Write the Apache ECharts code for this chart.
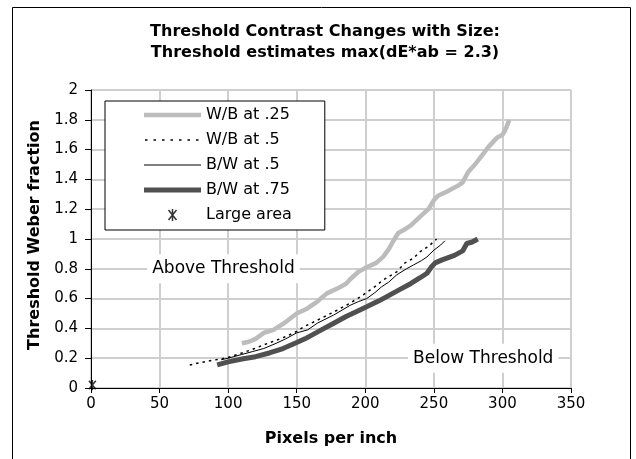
<!DOCTYPE html>
<html>
<head>
<meta charset="utf-8">
<script src="https://cdn.jsdelivr.net/npm/echarts@6/dist/echarts.min.js"></script>
<style>html,body{margin:0;padding:0;background:#fff;}#c{width:636px;height:459px;}</style>
</head>
<body>
<div id="c"></div>
<script>
const titleLines = ['Threshold Contrast Changes with Size:', 'Threshold estimates max(dE*ab = 2.3)'];
const xName = 'Pixels per inch';
const yName = 'Threshold Weber fraction';
const seriesNames = ['W/B at .25', 'W/B at .5', 'B/W at .5', 'B/W at .75', 'Large area'];

const wb25 = [[110,0.30],[115,0.31],[120,0.33],[126,0.37],[133,0.39],[140,0.43],[150,0.50],[157,0.53],[165,0.58],[172,0.635],[180,0.67],[186,0.70],[189,0.73],[195,0.78],[201,0.81],[208,0.84],[213,0.88],[217,0.93],[220,0.98],[224,1.04],[228,1.06],[233,1.09],[240,1.15],[246,1.20],[250,1.26],[253,1.29],[260,1.32],[268,1.36],[271,1.38],[275,1.45],[280,1.50],[285,1.56],[290,1.62],[296,1.68],[300,1.70],[302,1.73],[305,1.80]];
const wb50 = [[72,0.155],[80,0.17],[88,0.185],[95,0.195],[100,0.205],[110,0.235],[118,0.26],[126,0.29],[135,0.32],[142,0.345],[150,0.38],[155,0.41],[165,0.455],[177,0.51],[189,0.57],[196,0.61],[200,0.635],[207,0.68],[213,0.725],[223,0.78],[229,0.84],[235,0.87],[240,0.915],[246,0.95],[252,1.0]];
const bw50 = [[95,0.19],[100,0.20],[110,0.225],[118,0.245],[126,0.265],[135,0.30],[142,0.33],[150,0.37],[158,0.39],[165,0.435],[177,0.49],[189,0.555],[195,0.58],[201,0.60],[207,0.64],[212,0.68],[217,0.71],[223,0.76],[230,0.80],[235,0.825],[241,0.855],[245,0.88],[250,0.925],[255,0.96],[258,0.988]];
const bw75 = [[92,0.155],[100,0.175],[110,0.195],[120,0.21],[130,0.235],[140,0.265],[150,0.305],[156,0.33],[162,0.36],[170,0.40],[176,0.43],[186,0.48],[193,0.51],[201,0.545],[210,0.585],[218,0.625],[225,0.66],[233,0.70],[240,0.74],[245,0.77],[248,0.81],[251,0.84],[256,0.86],[265,0.89],[271,0.92],[274,0.97],[278,0.98],[282,1.0]];
const largeArea = [[1,0.02]];
const annotations = [{text:'Above Threshold', coord:[96.6,0.8]}, {text:'Below Threshold', coord:[286,0.2]}];

const FONT = 'DejaVu Sans';
const star = 'path://M0,0M14,14M3,2L11,12M11,2L3,12M7,1L7,13';

function barIcon(h) { return 'path://M0,0L57,0L57,' + h + 'L0,' + h + 'Z'; }
function dotIcon() {
  let p = 'path://M0,0M57,1.5';
  for (let i = 0; i < 7; i++) {
    const x = 1 + i * 8.5;
    p += 'M' + x + ',0L' + (x + 2.5) + ',0L' + (x + 2.5) + ',1.5L' + x + ',1.5Z';
  }
  return p;
}

const chart = echarts.init(document.getElementById('c'), null, {renderer:'canvas'});
chart.setOption({
  animation: false,
  backgroundColor: '#fff',
  textStyle: {fontFamily: FONT},
  title: {
    text: titleLines.join('\n'),
    left: 325, top: 22, padding: 0, textAlign: 'center',
    textStyle: {fontFamily: FONT, fontSize: 16, fontWeight: 'bold', color: '#000', lineHeight: 20.5}
  },
  graphic: [{type:'rect', shape:{x:12.5, y:7.5, width:618, height:470}, style:{fill:'none', stroke:'#000', lineWidth:1}, silent:true, z:-1}],
  grid: {left: 91, right: 65, top: 90, bottom: 71, containLabel: false, outerBoundsMode: 'none'},
  legend: {
    orient: 'vertical', left: 105, top: 101,
    padding: [6, 33, 7, 39],
    itemWidth: 57, itemHeight: 14, itemGap: 9,
    symbolKeepAspect: true,
    backgroundColor: '#fff', borderColor: '#000', borderWidth: 1,
    textStyle: {fontFamily: FONT, fontSize: 16, color: '#000'},
    data: [
      {name: seriesNames[0], icon: barIcon(4.5), itemStyle: {color: '#bcbcbc', borderWidth: 0}},
      {name: seriesNames[1], icon: dotIcon(), itemStyle: {color: '#000', borderWidth: 0}},
      {name: seriesNames[2], icon: barIcon(1), itemStyle: {color: '#000', borderWidth: 0}},
      {name: seriesNames[3], icon: barIcon(5), itemStyle: {color: '#505050', borderWidth: 0}},
      {name: seriesNames[4], icon: star, itemStyle: {color: '#000', borderColor: '#000', borderWidth: 1.5}}
    ],
    selectedMode: false
  },
  xAxis: {
    type: 'value', min: 0, max: 350, interval: 50,
    name: xName, nameLocation: 'middle', nameGap: 43,
    nameTextStyle: {fontFamily: FONT, fontSize: 16, fontWeight: 'bold', color: '#000'},
    axisLine: {show: true, onZero: false, lineStyle: {color: '#000', width: 1}},
    axisTick: {show: true, length: 5, lineStyle: {color: '#000'}},
    axisLabel: {fontFamily: FONT, fontSize: 15, color: '#000', margin: 9},
    splitLine: {show: true, lineStyle: {color: '#cfcfcf', width: 2}}
  },
  yAxis: {
    type: 'value', min: 0, max: 2, interval: 0.2,
    name: yName, nameLocation: 'middle', nameGap: 47,
    nameTextStyle: {fontFamily: FONT, fontSize: 16, fontWeight: 'bold', color: '#000', padding: [0, 0, 0, 8]},
    axisLine: {show: true, onZero: false, lineStyle: {color: '#000', width: 1}},
    axisTick: {show: true, length: 6, lineStyle: {color: '#000'}},
    axisLabel: {fontFamily: FONT, fontSize: 15, color: '#000', margin: 13},
    splitLine: {show: true, lineStyle: {color: '#cfcfcf', width: 2}}
  },
  series: [
    {name: seriesNames[0], type: 'line', data: wb25, symbol: 'none', color: '#bcbcbc', lineStyle: {color: '#bcbcbc', width: 4.5}, z: 2, emphasis:{disabled:true}},
    {name: seriesNames[1], type: 'line', data: wb50, symbol: 'none', color: '#000', lineStyle: {color: '#000', width: 1.5, type: [2.5, 4]}, z: 3, emphasis:{disabled:true}},
    {name: seriesNames[2], type: 'line', data: bw50, symbol: 'none', color: '#000', lineStyle: {color: '#000', width: 1}, z: 3, emphasis:{disabled:true}},
    {name: seriesNames[3], type: 'line', data: bw75, symbol: 'none', color: '#505050', lineStyle: {color: '#505050', width: 5}, z: 2, emphasis:{disabled:true}},
    {name: seriesNames[4], type: 'scatter', data: largeArea, symbol: star, symbolSize: 12, symbolKeepAspect: true, clip: false,
     itemStyle: {color: '#000', borderColor: '#000', borderWidth: 1.5}, z: 4, emphasis:{disabled:true},
     markPoint: {
       symbol: 'rect', symbolSize: 1, silent: true,
       itemStyle: {color: 'rgba(0,0,0,0)'},
       label: {show: true, position: 'inside', formatter: p => p.name, fontFamily: FONT, fontSize: 17, color: '#000', backgroundColor: '#fff', padding: [6, 5]},
       data: annotations.map(a => ({name: a.text, coord: a.coord}))
     }}
  ]
});
</script>
</body>
</html>
